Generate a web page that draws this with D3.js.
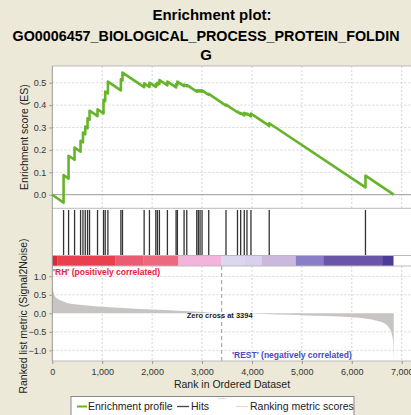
<!DOCTYPE html>
<html>
<head>
<meta charset="utf-8">
<script src="https://cdnjs.cloudflare.com/ajax/libs/d3/7.8.5/d3.min.js"></script>
<style>
  body { margin: 0; background: #ece9d8; }
  svg { display: block; font-family: "Liberation Sans", Arial, sans-serif; }
</style>
</head>
<body>
<div class="chart"></div>
<script>
// running enrichment score vertices [rank, ES]
var esRanks = [0, 226, 226, 326, 326, 446, 446, 566, 566, 614, 614, 660, 660, 706, 706, 746, 746, 906, 906,
  1026, 1026, 1060, 1060, 1114, 1114, 1374, 1374, 1406, 1406, 1840, 1840, 1946, 1946, 2074, 2074, 2106, 2106,
  2146, 2146, 2306, 2306, 2480, 2480, 2506, 2506, 2640, 2640, 2694, 2694, 2894, 2894, 2926, 2926, 2960, 2960,
  3000, 3000, 3134, 3134, 3480, 3480, 3710, 3710, 3774, 3774, 3846, 3846, 3900, 3900, 3980, 3980, 4346, 4346,
  6274, 6274, 6840];
var esValues = [0, -0.036, 0.088, 0.072, 0.174, 0.156, 0.21, 0.192, 0.241, 0.234, 0.277, 0.270, 0.304, 0.297, 0.341,
  0.335, 0.375, 0.351, 0.381, 0.363, 0.423, 0.418, 0.460, 0.452, 0.505, 0.466, 0.515, 0.510, 0.545, 0.480, 0.497,
  0.481, 0.500, 0.481, 0.494, 0.489, 0.500, 0.494, 0.512, 0.488, 0.505, 0.479, 0.494, 0.490, 0.505, 0.485, 0.492,
  0.484, 0.490, 0.460, 0.466, 0.461, 0.466, 0.461, 0.466, 0.460, 0.466, 0.446, 0.450, 0.398, 0.402, 0.368, 0.371,
  0.361, 0.365, 0.354, 0.366, 0.358, 0.362, 0.350, 0.362, 0.307, 0.319, 0.033, 0.085, 0];

// positions of gene set members in the ranked list
var hits = [226, 326, 446, 566, 614, 660, 706, 746, 906, 1026, 1060, 1114, 1374, 1406, 1840, 1946, 2074, 2106,
  2146, 2306, 2480, 2506, 2640, 2694, 2894, 2926, 2960, 3000, 3134, 3480, 3710, 3774, 3846, 3900, 3980, 4346, 6274];

// ranked list metric (signal2noise) sampled along the list
var metricRanks = [0, 20, 60, 100, 200, 300, 500, 800, 1000, 1500, 2000, 2500, 3000, 3394, 4000, 4500, 5000,
  5500, 6000, 6300, 6500, 6650, 6750, 6800, 6830, 6840];
var metricValues = [0.8, 0.6, 0.45, 0.4, 0.33, 0.28, 0.24, 0.2, 0.18, 0.135, 0.1, 0.07, 0.035, 0, -0.015, -0.03,
  -0.05, -0.075, -0.11, -0.15, -0.2, -0.27, -0.4, -0.55, -0.8, -1.2];

// heat bar segments
var barStarts = [0, 100, 1260, 1820, 2520, 3380, 3860, 4200, 4880, 5440, 6620];
var barEnds = [100, 1260, 1820, 2520, 3380, 3860, 4200, 4880, 5440, 6620, 6830];
var barColors = ["#dc2838", "#e8404e", "#e95c74", "#ec6a80", "#f2b4da", "#dcd6ef", "#d8d0ec", "#cbb8df",
  "#8a7fc6", "#6a56a8", "#4e3a98"];

var xTicks = [0, 1000, 2000, 3000, 4000, 5000, 6000, 7000];
var esTicks = [0.0, 0.1, 0.2, 0.3, 0.4, 0.5];
var metricTicks = [1.0, 0.5, 0.0, -0.5, -1.0];
var zeroCross = 3394;

var W = 411, H = 415;
var left = 52.3, right = 412;
var esTop = 66, esBottom = 208.3;
var hitsTop = 208.3, barTop = 255.5, barBottom = 266;
var mTop = 266, mBottom = 361;

var svg = d3.select(".chart").append("svg")
  .attr("width", W)
  .attr("height", H);

svg.append("rect").attr("width", W).attr("height", H).attr("fill", "#ece9d8");

// scales
var x = d3.scaleLinear().domain([0, 7000]).range([left, 401.7]);
var yES = d3.scaleLinear().domain([0, 0.5]).range([194.7, 82.7]);
var yM = d3.scaleLinear().domain([0, 1]).range([313.3, 276.3]);

// title
svg.append("text").attr("x", 212).attr("y", 20).attr("text-anchor", "middle")
  .style("font-size", "15px").style("font-weight", "bold").text("Enrichment plot:");
svg.append("text").attr("x", 206).attr("y", 41).attr("text-anchor", "middle")
  .attr("textLength", 387).attr("lengthAdjust", "spacingAndGlyphs")
  .style("font-size", "15px").style("font-weight", "bold").text("GO0006457_BIOLOGICAL_PROCESS_PROTEIN_FOLDIN");
svg.append("text").attr("x", 206).attr("y", 60).attr("text-anchor", "middle")
  .style("font-size", "15px").style("font-weight", "bold").text("G");

// plot background
svg.append("rect").attr("x", left).attr("y", esTop).attr("width", right - left).attr("height", mBottom - esTop)
  .attr("fill", "#fff");

var grid = svg.append("g").attr("stroke", "#d6d6d6").attr("stroke-dasharray", "2,2").attr("stroke-width", 1);

// vertical grid in ES and metric panels
xTicks.slice(1).forEach(function(t) {
  grid.append("line").attr("x1", x(t)).attr("x2", x(t)).attr("y1", esTop).attr("y2", esBottom);
  grid.append("line").attr("x1", x(t)).attr("x2", x(t)).attr("y1", mTop).attr("y2", mBottom);
});
esTicks.slice(1).forEach(function(t) {
  grid.append("line").attr("x1", left).attr("x2", right).attr("y1", yES(t)).attr("y2", yES(t));
});
metricTicks.filter(function(t) { return t != 0; }).forEach(function(t) {
  grid.append("line").attr("x1", left).attr("x2", right).attr("y1", yM(t)).attr("y2", yM(t));
});

// ES zero line
svg.append("line").attr("x1", left).attr("x2", right).attr("y1", yES(0)).attr("y2", yES(0))
  .attr("stroke", "#999").attr("stroke-width", 1);

// metric area
var metric = metricRanks.map(function(r, i) { return [r, metricValues[i]]; });
svg.append("path")
  .datum(metric)
  .attr("fill", "#c8c4c4")
  .attr("d", d3.area().curve(d3.curveMonotoneX)
    .x(function(d) { return x(d[0]); })
    .y0(yM(0))
    .y1(function(d) { return yM(d[1]); }));

// zero cross
svg.append("line").attr("x1", x(zeroCross)).attr("x2", x(zeroCross)).attr("y1", mTop).attr("y2", mBottom)
  .attr("stroke", "#999").attr("stroke-dasharray", "4,3");
svg.append("text").attr("x", x(zeroCross) - 2).attr("y", 318).attr("text-anchor", "middle")
  .style("font-size", "7.5px").style("font-weight", "bold").attr("fill", "#222").text("Zero cross at " + zeroCross);

svg.append("text").attr("x", 53).attr("y", 274.5)
  .style("font-size", "8.5px").style("font-weight", "bold").attr("fill", "#e8203c").text("'RH' (positively correlated)");
svg.append("text").attr("x", 232).attr("y", 358)
  .style("font-size", "8.5px").style("font-weight", "bold").attr("fill", "#4a4ac0").text("'REST' (negatively correlated)");

// hits
svg.append("g").selectAll("line")
  .data(hits)
  .join("line")
  .attr("x1", function(d) { return x(d); })
  .attr("x2", function(d) { return x(d); })
  .attr("y1", 210)
  .attr("y2", barTop)
  .attr("stroke", "#333")
  .attr("stroke-width", 1.3);

// heat bar
svg.append("g").selectAll("rect")
  .data(barStarts)
  .join("rect")
  .attr("x", function(d) { return x(d); })
  .attr("width", function(d, i) { return x(barEnds[i]) - x(d) + 0.3; })
  .attr("y", barTop)
  .attr("height", barBottom - barTop)
  .attr("fill", function(d, i) { return barColors[i]; });

// panel separators
var sep = svg.append("g").attr("stroke", "#bbb").attr("stroke-width", 1);
sep.append("line").attr("x1", left).attr("x2", right).attr("y1", esBottom).attr("y2", esBottom);
sep.append("line").attr("x1", left).attr("x2", right).attr("y1", barTop).attr("y2", barTop);
sep.append("line").attr("x1", left).attr("x2", right).attr("y1", barBottom).attr("y2", barBottom);
sep.append("line").attr("x1", left).attr("x2", right).attr("y1", esTop).attr("y2", esTop);
sep.append("line").attr("x1", left).attr("x2", right).attr("y1", mBottom).attr("y2", mBottom);
sep.append("line").attr("x1", left).attr("x2", left).attr("y1", esTop).attr("y2", mBottom).attr("stroke", "#999");

// enrichment profile
var es = esRanks.map(function(r, i) { return [r, esValues[i]]; });
svg.append("path")
  .datum(es)
  .attr("fill", "none")
  .attr("stroke", "#66b42a")
  .attr("stroke-width", 2.6)
  .attr("stroke-linejoin", "round")
  .attr("d", d3.line().x(function(d) { return x(d[0]); }).y(function(d) { return yES(d[1]); }));

// axes
var axisES = svg.append("g").attr("transform", "translate(" + left + ",0)")
  .call(d3.axisLeft(yES).tickValues(esTicks).tickFormat(d3.format(".1f")).tickSize(3));
var axisM = svg.append("g").attr("transform", "translate(" + left + ",0)")
  .call(d3.axisLeft(yM).tickValues(metricTicks).tickFormat(d3.format(".1f")).tickSize(3));
var axisX = svg.append("g").attr("transform", "translate(0," + mBottom + ")")
  .call(d3.axisBottom(x).tickValues(xTicks).tickFormat(d3.format(",")).tickSize(3));

[axisES, axisM, axisX].forEach(function(a) {
  a.select(".domain").remove();
  a.selectAll("line").attr("stroke", "#999");
  a.selectAll("text").style("font-size", "9px").attr("fill", "#333")
    .style("font-family", "'Liberation Sans', Arial, sans-serif");
});
axisX.selectAll("text").attr("dy", "0.9em");

// axis titles
svg.append("text").attr("transform", "translate(28," + ((esTop + esBottom) / 2) + ") rotate(-90)")
  .attr("text-anchor", "middle").style("font-size", "10.5px").attr("fill", "#222").text("Enrichment score (ES)");
svg.append("text").attr("transform", "translate(27,316) rotate(-90)")
  .attr("text-anchor", "middle").style("font-size", "10.5px").attr("fill", "#222").text("Ranked list metric (Signal2Noise)");
svg.append("text").attr("x", 232).attr("y", 388).attr("text-anchor", "middle")
  .style("font-size", "10.5px").attr("fill", "#222").text("Rank in Ordered Dataset");

// legend
var legend = svg.append("g");
legend.append("rect").attr("x", 71).attr("y", 396.5).attr("width", 283).attr("height", 30)
  .attr("fill", "#fff").attr("stroke", "#888");
legend.append("line").attr("x1", 77).attr("x2", 87).attr("y1", 406.5).attr("y2", 406.5)
  .attr("stroke", "#66b42a").attr("stroke-width", 2);
legend.append("text").attr("x", 88).attr("y", 410).style("font-size", "10.5px").attr("fill", "#222")
  .text("Enrichment profile");
legend.append("line").attr("x1", 177).attr("x2", 189).attr("y1", 406.5).attr("y2", 406.5)
  .attr("stroke", "#444").attr("stroke-width", 1.3);
legend.append("text").attr("x", 191).attr("y", 410).style("font-size", "10.5px").attr("fill", "#222")
  .text("Hits");
legend.append("line").attr("x1", 218).attr("x2", 226).attr("y1", 398.5).attr("y2", 398.5)
  .attr("stroke", "#ddd").attr("stroke-width", 1);
legend.append("line").attr("x1", 236).attr("x2", 248).attr("y1", 406.5).attr("y2", 406.5)
  .attr("stroke", "#ddd").attr("stroke-width", 1.3);
legend.append("text").attr("x", 250).attr("y", 410).style("font-size", "10.5px").attr("fill", "#222")
  .text("Ranking metric scores");
</script>
</body>
</html>
